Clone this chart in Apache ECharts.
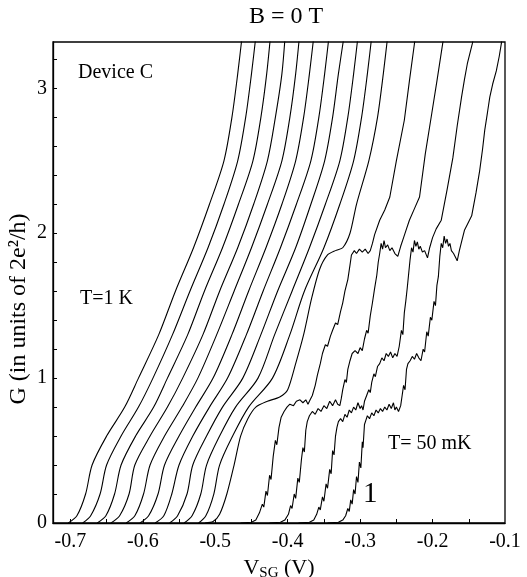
<!DOCTYPE html>
<html><head><meta charset="utf-8">
<script src="https://cdn.jsdelivr.net/npm/echarts@6/dist/echarts.min.js"></script>
<style>html,body{margin:0;padding:0;background:#fff}#c{width:527px;height:577px}</style>
</head><body><div id="c"></div>
<script>
// G levels (units of 2e^2/h) at which the smoother (higher-T) curves are read
const gLevels = [0, 0.05, 0.2, 0.4, 0.6, 0.8, 1.0, 1.3, 1.6, 1.9, 2.2, 2.5, 2.8, 3.1, 3.4];
// V_SG (V) of each smoother curve at those levels, left to right
const c15 = [-0.703,-0.691,-0.679,-0.670,-0.650,-0.625,-0.606,-0.578,-0.555,-0.530,-0.508,-0.488,-0.477,-0.469,-0.462];
const c14 = [-0.683,-0.672,-0.659,-0.650,-0.630,-0.606,-0.586,-0.559,-0.535,-0.510,-0.488,-0.469,-0.458,-0.450,-0.443];
const c13 = [-0.663,-0.651,-0.639,-0.630,-0.610,-0.585,-0.566,-0.538,-0.515,-0.490,-0.468,-0.448,-0.437,-0.429,-0.423];
const c12 = [-0.644,-0.632,-0.619,-0.611,-0.590,-0.566,-0.545,-0.517,-0.494,-0.469,-0.447,-0.428,-0.417,-0.408,-0.403];
const c11 = [-0.623,-0.611,-0.599,-0.590,-0.570,-0.546,-0.524,-0.498,-0.474,-0.450,-0.428,-0.408,-0.397,-0.389,-0.383];
const c10 = [-0.604,-0.592,-0.579,-0.570,-0.550,-0.527,-0.503,-0.477,-0.454,-0.430,-0.408,-0.389,-0.378,-0.370,-0.363];
const c9  = [-0.583,-0.571,-0.560,-0.550,-0.531,-0.508,-0.483,-0.457,-0.434,-0.410,-0.388,-0.368,-0.357,-0.349,-0.342];
const c8  = [-0.563,-0.552,-0.539,-0.531,-0.512,-0.490,-0.462,-0.437,-0.414,-0.389,-0.368,-0.349,-0.338,-0.330,-0.321];
const c7  = [-0.543,-0.532,-0.520,-0.512,-0.494,-0.472,-0.441,-0.418,-0.394,-0.370,-0.348,-0.328,-0.317,-0.309,-0.302];
const c6  = [-0.523,-0.513,-0.502,-0.494,-0.476,-0.454,-0.421,-0.397,-0.377,-0.350,-0.328,-0.309,-0.298,-0.290,-0.283];
// curves with plateaus, [V_SG, G] pairs
const c5 = [[-0.514,0],[-0.503,0.01],[-0.494,0.06],[-0.484,0.2],[-0.474,0.4],[-0.465,0.6],[-0.455,0.72],[-0.444,0.8],[-0.428,0.84],[-0.411,0.87],[-0.400,0.92],[-0.389,1.1],[-0.378,1.3],[-0.367,1.55],[-0.356,1.75],[-0.345,1.85],[-0.334,1.88],[-0.324,1.9],[-0.314,2.0],[-0.305,2.2],[-0.288,2.5],[-0.276,2.8],[-0.268,3.1],[-0.261,3.4]];
const c4 = [[-0.465,0],[-0.450,0.005],[-0.444,0.02],[-0.439,0.07],[-0.435,0.13],[-0.433,0.11],[-0.430,0.22],[-0.428,0.19],[-0.425,0.33],[-0.423,0.30],[-0.420,0.46],[-0.417,0.57],[-0.415,0.54],[-0.412,0.66],[-0.409,0.73],[-0.405,0.77],[-0.401,0.80],[-0.397,0.82],[-0.392,0.81],[-0.388,0.84],[-0.383,0.85],[-0.379,0.83],[-0.375,0.85],[-0.372,0.82],[-0.369,0.85],[-0.366,0.88],[-0.362,0.95],[-0.359,1.02],[-0.355,1.10],[-0.352,1.17],[-0.348,1.23],[-0.345,1.22],[-0.341,1.29],[-0.338,1.33],[-0.334,1.38],[-0.331,1.37],[-0.327,1.46],[-0.324,1.52],[-0.321,1.60],[-0.317,1.68],[-0.314,1.78],[-0.312,1.85],[-0.308,1.88],[-0.305,1.86],[-0.301,1.89],[-0.297,1.87],[-0.293,1.89],[-0.289,1.86],[-0.286,1.88],[-0.283,1.93],[-0.280,1.99],[-0.273,2.09],[-0.266,2.16],[-0.259,2.25],[-0.250,2.50],[-0.239,2.78],[-0.232,3.05],[-0.225,3.31],[-0.222,3.4]];
const c3 = [[-0.425,0],[-0.410,0.005],[-0.404,0.02],[-0.399,0.06],[-0.396,0.12],[-0.394,0.10],[-0.391,0.20],[-0.389,0.17],[-0.386,0.31],[-0.384,0.28],[-0.381,0.44],[-0.379,0.52],[-0.377,0.49],[-0.375,0.64],[-0.373,0.70],[-0.370,0.74],[-0.366,0.77],[-0.362,0.75],[-0.358,0.79],[-0.354,0.77],[-0.350,0.81],[-0.346,0.79],[-0.342,0.84],[-0.338,0.81],[-0.334,0.85],[-0.331,0.82],[-0.328,0.81],[-0.326,0.86],[-0.324,0.92],[-0.321,0.99],[-0.319,0.97],[-0.317,1.06],[-0.314,1.12],[-0.311,1.17],[-0.307,1.19],[-0.303,1.17],[-0.300,1.21],[-0.297,1.19],[-0.294,1.27],[-0.291,1.33],[-0.289,1.31],[-0.286,1.43],[-0.283,1.52],[-0.280,1.62],[-0.277,1.71],[-0.275,1.80],[-0.273,1.86],[-0.271,1.93],[-0.269,1.89],[-0.267,1.95],[-0.265,1.90],[-0.262,1.92],[-0.259,1.88],[-0.256,1.90],[-0.252,1.86],[-0.248,1.84],[-0.244,1.91],[-0.240,1.97],[-0.236,2.03],[-0.232,2.09],[-0.225,2.17],[-0.218,2.25],[-0.210,2.55],[-0.201,2.83],[-0.194,3.05],[-0.186,3.31],[-0.183,3.4]];
const c2 = [[-0.385,0],[-0.370,0.005],[-0.364,0.02],[-0.360,0.06],[-0.357,0.11],[-0.355,0.09],[-0.352,0.18],[-0.350,0.15],[-0.347,0.27],[-0.345,0.24],[-0.342,0.37],[-0.340,0.34],[-0.338,0.50],[-0.336,0.47],[-0.334,0.60],[-0.332,0.66],[-0.330,0.70],[-0.327,0.72],[-0.324,0.70],[-0.321,0.75],[-0.318,0.73],[-0.315,0.78],[-0.312,0.76],[-0.309,0.80],[-0.306,0.78],[-0.303,0.83],[-0.300,0.79],[-0.298,0.81],[-0.296,0.78],[-0.294,0.84],[-0.291,0.88],[-0.288,0.92],[-0.286,0.90],[-0.284,0.97],[-0.281,1.03],[-0.279,1.01],[-0.276,1.08],[-0.273,1.10],[-0.270,1.14],[-0.267,1.12],[-0.264,1.17],[-0.261,1.15],[-0.258,1.18],[-0.255,1.14],[-0.252,1.17],[-0.249,1.15],[-0.246,1.22],[-0.243,1.33],[-0.241,1.30],[-0.239,1.45],[-0.237,1.53],[-0.235,1.62],[-0.233,1.72],[-0.231,1.82],[-0.229,1.90],[-0.227,1.87],[-0.225,1.95],[-0.223,1.91],[-0.221,1.94],[-0.219,1.89],[-0.217,1.91],[-0.214,1.87],[-0.211,1.88],[-0.207,1.83],[-0.204,1.90],[-0.200,1.97],[-0.195,2.03],[-0.188,2.09],[-0.180,2.30],[-0.172,2.52],[-0.166,2.74],[-0.160,2.94],[-0.156,3.06],[-0.152,3.17],[-0.145,3.31],[-0.142,3.4]];
const c1 = [[-0.345,0],[-0.330,0.005],[-0.324,0.02],[-0.320,0.05],[-0.317,0.10],[-0.315,0.08],[-0.313,0.16],[-0.311,0.13],[-0.309,0.23],[-0.307,0.20],[-0.305,0.32],[-0.303,0.28],[-0.301,0.42],[-0.299,0.38],[-0.297,0.56],[-0.296,0.52],[-0.294,0.68],[-0.292,0.71],[-0.290,0.74],[-0.287,0.72],[-0.284,0.76],[-0.281,0.74],[-0.278,0.78],[-0.275,0.76],[-0.272,0.79],[-0.269,0.77],[-0.266,0.80],[-0.263,0.78],[-0.260,0.82],[-0.257,0.79],[-0.254,0.83],[-0.252,0.78],[-0.250,0.80],[-0.247,0.77],[-0.244,0.81],[-0.242,0.88],[-0.240,0.95],[-0.238,0.92],[-0.236,1.06],[-0.234,1.10],[-0.231,1.12],[-0.228,1.15],[-0.225,1.13],[-0.222,1.17],[-0.219,1.14],[-0.216,1.12],[-0.213,1.20],[-0.211,1.18],[-0.208,1.32],[-0.206,1.29],[-0.203,1.42],[-0.201,1.40],[-0.198,1.53],[-0.196,1.50],[-0.194,1.64],[-0.192,1.70],[-0.190,1.84],[-0.188,1.93],[-0.186,1.90],[-0.184,1.98],[-0.182,1.93],[-0.180,1.96],[-0.178,1.91],[-0.176,1.93],[-0.174,1.88],[-0.171,1.86],[-0.168,1.83],[-0.166,1.81],[-0.163,1.88],[-0.160,1.94],[-0.156,2.02],[-0.152,2.06],[-0.146,2.12],[-0.140,2.28],[-0.135,2.43],[-0.131,2.58],[-0.128,2.71],[-0.124,2.84],[-0.121,2.94],[-0.117,3.03],[-0.112,3.12],[-0.108,3.22],[-0.105,3.31],[-0.103,3.4]];

const xTickLabels = [-0.7,-0.6,-0.5,-0.4,-0.3,-0.2,-0.1];
const xTicks = [-0.7,-0.65,-0.6,-0.55,-0.5,-0.45,-0.4,-0.35,-0.3,-0.25,-0.2,-0.15];
const yTickLabels = [0,1,2,3];
const yTicks = [0.2,0.4,0.6,0.8,1,1.2,1.4,1.6,1.8,2,2.2,2.4,2.6,2.8,3,3.2];

const levelCurves = [c15,c14,c13,c12,c11,c10,c9,c8,c7,c6];
const pairCurves = [c5,c4,c3,c2,c1];

const FONT = 'Liberation Serif';
const lineStyle = {color:'#000', width:1.1};
const series = [];
levelCurves.forEach(v => series.push({type:'line', data:gLevels.map((g,i)=>[v[i],g]), smooth:0.3, symbol:'none', lineStyle, silent:true}));
pairCurves.forEach((d,i) => series.push({type:'line', data:d, smooth:i===0?0.25:false, symbol:'none', lineStyle, silent:true}));

const chart = echarts.init(document.getElementById('c'));
chart.setOption({
  animation:false,
  backgroundColor:'#fff',
  title:{text:'B = 0 T', left:281, top:0, textAlign:'center', textStyle:{fontFamily:FONT, fontSize:24, fontWeight:'normal', color:'#000'}},
  grid:{left:53, right:22, top:42, bottom:54, containLabel:false, outerBoundsMode:'none', show:true, borderColor:'#000', borderWidth:1.3, backgroundColor:'transparent'},
  xAxis:{type:'value', min:-0.724, max:-0.1,
    name:'{v|V}{s|SG}{v| (V)}', nameLocation:'middle', nameGap:30,
    nameTextStyle:{fontFamily:FONT, color:'#000', rich:{v:{fontFamily:FONT,fontSize:22,color:'#000'}, s:{fontFamily:FONT,fontSize:15,color:'#000',padding:[11,0,0,0]}}},
    axisLine:{lineStyle:{color:'#000', width:1.3}},
    axisTick:{inside:true, length:4, customValues:xTicks, lineStyle:{color:'#000'}},
    axisLabel:{customValues:xTickLabels, fontFamily:FONT, fontSize:20, color:'#000', margin:9, formatter:v=>String(Math.round(v*10)/10)},
    splitLine:{show:false}},
  yAxis:{type:'value', min:0, max:3.32,
    axisLine:{lineStyle:{color:'#000', width:1.3}},
    axisTick:{inside:true, length:4, customValues:yTicks, lineStyle:{color:'#000'}},
    axisLabel:{customValues:yTickLabels, fontFamily:FONT, fontSize:20, color:'#000', margin:6},
    splitLine:{show:false}},
  graphic:[
    {type:'text', x:19, y:309, rotation:Math.PI/2, style:{text:'G (in units of 2e²/h)', font:'24px "Liberation Serif"', fill:'#000', align:'center', verticalAlign:'middle'}},
    {type:'text', left:78, top:63, style:{text:'Device C', font:'20px "Liberation Serif"', fill:'#000'}},
    {type:'text', left:80, top:289, style:{text:'T=1 K', font:'20px "Liberation Serif"', fill:'#000'}},
    {type:'text', left:388, top:434, style:{text:'T= 50 mK', font:'20px "Liberation Serif"', fill:'#000'}},
    {type:'text', left:363, top:480, style:{text:'1', font:'29px "Liberation Serif"', fill:'#000'}}
  ],
  series
});
</script></body></html>
